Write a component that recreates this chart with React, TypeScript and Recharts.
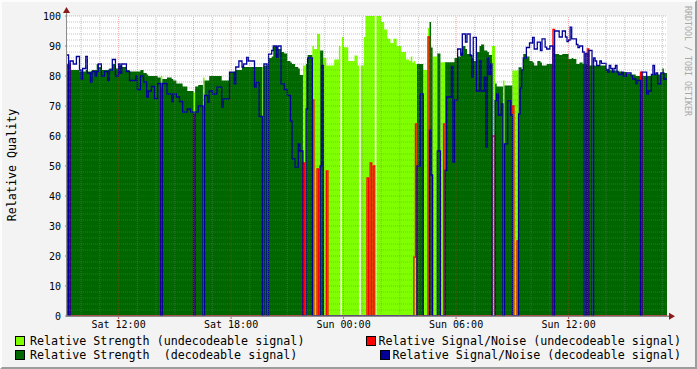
import { ComposedChart, Area, Line, XAxis, YAxis, CartesianGrid, ReferenceLine } from "recharts";

// Signal quality log, 5-minute steps counted from Sat 09:15.
// Each entry holds from its start step until the next one begins.
const STEP_START = [
  0, 1, 2, 4, 6, 8, 9, 10, 12, 13,
  15, 16, 18, 19, 20, 22, 24, 26, 27, 29,
  31, 33, 34, 35, 38, 40, 44, 45, 47, 49,
  51, 52, 54, 56, 58, 60, 61, 64, 67, 68,
  70, 72, 74, 77, 79, 81, 82, 84, 87, 88,
  90, 91, 93, 96, 99, 100, 104, 107, 108, 110,
  112, 113, 115, 116, 120, 121, 123, 125, 126, 128,
  129, 131, 132, 134, 135, 137, 139, 141, 143, 144,
  146, 148, 149, 151, 152, 153, 154, 157, 158, 160,
  161, 162, 163, 164, 166, 167, 171, 174, 175, 176,
  177, 180, 184, 186, 187, 188, 190, 191, 192, 193,
  194, 195, 196, 197, 198, 201, 203, 205, 207, 209,
  211, 214, 217, 219, 220, 221, 222, 223, 224, 226,
  228, 231, 232, 233, 234, 237, 239, 241, 242, 243,
  246, 247, 248, 250, 252, 253, 255, 256, 258, 259,
  260, 262, 264, 265, 267, 268, 269, 270, 271, 272,
  274, 275, 276, 278, 279, 280, 282, 284, 285, 286,
  288, 289, 290, 291, 292, 294, 296, 298, 299, 301,
  303, 304, 306, 307, 309, 311, 312, 315, 317, 319,
  320, 321, 322, 323, 324, 326, 327, 328, 330, 331,
  332, 333, 334, 336, 337, 338, 339, 341, 342, 345,
  346, 347, 348, 349, 350, 351, 352, 353, 355, 356,
  358, 361, 362, 364, 365, 367, 368, 371, 372, 374,
  375, 376, 377, 378, 380, 381, 382,
];

// relative strength (0 = no data)
const STRENGTH = [
  84, 84, 82, 82, 82, 81.5, 81.5, 81.5, 82, 81.5,
  81.5, 82, 82, 84, 83, 82, 82, 82, 82.5, 84,
  82.5, 83.5, 83.5, 83, 82, 81.5, 81.5, 81.5, 82, 81,
  80.5, 80, 80, 80, 79.5, 80, 79, 79.5, 79, 78.5,
  77.5, 77.5, 76.5, 75, 75, 74.5, 76.5, 77, 79.5, 78.5,
  78.5, 80, 80, 80, 78.5, 78.5, 81.3, 81.5, 82, 82,
  83, 83, 83, 83, 83, 83, 83, 83, 83.5, 83.5,
  86, 86.5, 90, 90, 89, 88, 87.5, 85, 84.5, 84,
  83, 82.5, 80.3, 83.5, 83.5, 84, 87, 90, 89, 94,
  94, 88.5, 88.5, 86, 83.5, 83.5, 85.5, 90, 0, 93,
  89.6, 85, 86.8, 83.5, 0, 83.5, 93, 100, 100, 100,
  100, 100, 100, 0, 100, 98, 95.5, 92.4, 91, 92.4,
  90, 88, 85.5, 85, 86.5, 84.5, 85, 84, 84, 84,
  82, 96, 98, 89.5, 86.5, 87.5, 84.6, 84.6, 84.6, 84.6,
  84.6, 84.6, 86, 86.5, 88, 90, 89, 87.3, 87.3, 86,
  85, 88, 90, 90.5, 88.5, 88.5, 88, 87, 87, 90,
  77.5, 76.5, 76.5, 76.5, 78.5, 76.8, 76.8, 76.8, 81.8, 81.8,
  81.8, 82.9, 82.9, 82, 87.3, 86.5, 85, 84.5, 83.5, 85,
  84.5, 83.5, 83.5, 84, 84, 84, 87.3, 87, 87.3, 87.3,
  87.3, 85.7, 85.7, 86, 85.7, 84, 84, 84.5, 84, 84,
  84, 84, 83.5, 83.5, 83.5, 83.5, 83.5, 83.5, 83.5, 82.4,
  82.4, 82, 81.8, 81.8, 81.8, 81.8, 81.8, 81.5, 81.3, 81.3,
  80.7, 80.5, 80.5, 80, 80, 80, 80, 80, 80, 80.5,
  80.5, 80.5, 80.5, 80.5, 81, 82.5, 81,
];

// 1 = signal could be decoded
const DECODABLE = [
  1, 0, 1, 1, 1, 1, 1, 1, 1, 1,
  1, 1, 1, 1, 1, 1, 1, 1, 1, 1,
  1, 1, 1, 1, 1, 1, 1, 1, 1, 1,
  1, 1, 1, 1, 1, 0, 1, 1, 1, 1,
  1, 1, 1, 1, 1, 0, 1, 1, 0, 1,
  1, 1, 1, 1, 1, 1, 1, 1, 1, 1,
  1, 1, 1, 1, 1, 1, 1, 0, 1, 0,
  1, 1, 1, 1, 1, 1, 1, 1, 1, 1,
  1, 1, 1, 0, 0, 1, 1, 0, 0, 0,
  0, 1, 1, 0, 0, 0, 0, 0, 0, 0,
  0, 0, 0, 0, 0, 0, 0, 0, 0, 0,
  0, 0, 0, 0, 0, 0, 0, 0, 0, 0,
  0, 0, 0, 0, 0, 0, 0, 0, 1, 1,
  0, 0, 1, 1, 0, 1, 0, 0, 1, 1,
  1, 1, 1, 1, 1, 1, 1, 1, 1, 1,
  1, 1, 1, 1, 1, 1, 1, 1, 1, 0,
  1, 1, 1, 1, 0, 1, 1, 1, 0, 0,
  0, 1, 1, 1, 1, 1, 1, 1, 1, 1,
  1, 1, 1, 1, 1, 0, 1, 1, 1, 1,
  1, 1, 1, 1, 1, 1, 1, 1, 1, 0,
  1, 0, 1, 0, 1, 1, 1, 1, 1, 1,
  1, 1, 1, 1, 1, 1, 1, 1, 1, 1,
  1, 1, 1, 1, 1, 0, 1, 1, 1, 1,
  1, 1, 1, 1, 1, 1, 1,
];

// relative signal/noise
const SNR = [
  87, 84, 85, 84, 86.5, 82, 79, 82.5, 86.5, 81,
  78, 81.5, 80, 81.5, 84, 80, 81.5, 78.5, 82, 85.5,
  80, 84, 81, 84, 81.5, 78.5, 80, 75.5, 80, 78,
  73, 75, 76.5, 72.5, 77.5, 76, 77.5, 74, 71.5, 74,
  73, 71.5, 68, 69, 68, 67, 68, 70, 0, 73.5,
  71.3, 75, 74, 76.3, 69.6, 72.4, 81.3, 77.4, 83, 85,
  83, 84, 86.2, 85, 76.3, 77.9, 66.5, 0, 84, 0,
  87.3, 88.5, 90, 86.2, 90, 77.4, 75.5, 73.5, 65, 52.4,
  49.6, 57.4, 55, 51, 0, 69, 86, 72, 0, 49,
  0, 50, 83.5, 0, 48.4, 0, 0, 0, 0, 0,
  0, 0, 0, 0, 0, 0, 0, 0, 46, 0,
  51, 0, 50, 0, 0, 0, 0, 0, 0, 0,
  0, 0, 0, 0, 0, 0, 19.6, 64, 50, 74,
  0, 93, 62, 47, 0, 55, 0, 64, 48.5, 73,
  83, 51.3, 72, 89, 87, 94, 91.3, 94, 86.8, 79.6,
  92.9, 75, 85, 75, 79.6, 56.3, 86, 80.5, 84, 60,
  71.8, 74, 67, 70.7, 0, 57.4, 71.8, 67, 70, 0,
  25, 67.4, 76, 82, 86, 89.5, 91, 92.9, 89, 91.3,
  88.5, 92.4, 89.6, 89, 90, 95.5, 95, 93, 95, 93,
  91.5, 92, 96.3, 92.4, 92.4, 90.5, 89.5, 90, 88, 0,
  87.5, 89, 88.5, 0, 86, 85, 83.5, 85, 84.2, 82,
  81.3, 83.5, 82.5, 81.3, 82.5, 83.5, 81.3, 80.5, 81.3, 80,
  81, 80, 79, 77.5, 78.5, 81.3, 81.3, 74, 75, 80.5,
  83.5, 80.5, 81, 77.4, 81, 81, 79,
];

const T0 = 9.25; // hours after Sat 00:00
const TOTAL_STEPS = 384;
const X_TICKS = [12, 18, 24, 30, 36];
const X_TICK_LABELS = ["Sat 12:00", "Sat 18:00", "Sun 00:00", "Sun 06:00", "Sun 12:00"];
const Y_TICKS = [0, 10, 20, 30, 40, 50, 60, 70, 80, 90, 100];

const FONT = '"DejaVu Sans Mono", monospace';
const LIGHT = "#80ff00";
const DARK = "#006600";
const RED = "#ff0000";
const BLUE = "#000099";

const rows = STEP_START.map((s, i) => {
  const ok = DECODABLE[i] === 1;
  return {
    t: T0 + s / 12,
    good: ok ? STRENGTH[i] : 0,
    bad: ok ? 0 : STRENGTH[i],
    snrGood: ok ? SNR[i] : 0,
    snrBad: ok ? 0 : SNR[i],
  };
});
rows.push({ ...rows[rows.length - 1], t: T0 + TOTAL_STEPS / 12 });

const minorY: number[] = [];
for (let v = 2; v < 100; v += 2) if (v % 10) minorY.push(v);
const minorX: number[] = [];
for (let h = 10; h <= 41; h++) if (!X_TICKS.includes(h)) minorX.push(h);

const legendText = { position: "absolute" as const, fontSize: 11.7, lineHeight: "14px", whiteSpace: "pre" as const, color: "#000" };
const swatch = (color: string) => ({ position: "absolute" as const, width: 8, height: 8, background: color, border: "1px solid #000" });

const GRID = "rgba(120,120,120,0.45)";
const MGRID = "rgba(220,40,40,0.4)";

export default function App() {
  return (
    <div style={{ position: "absolute", left: 0, top: 0, width: 697, height: 369, background: "#f3f3f3", fontFamily: FONT, overflow: "hidden" }}>
      <ComposedChart width={697} height={369} data={rows} margin={{ top: 16, right: 30, bottom: 23, left: 7 }}>
        <CartesianGrid fill="#ffffff" horizontal={false} vertical={false} />
        <XAxis
          type="number"
          dataKey="t"
          domain={[T0, T0 + TOTAL_STEPS / 12]}
          ticks={X_TICKS}
          tickFormatter={(v) => X_TICK_LABELS[X_TICKS.indexOf(v)]}
          axisLine={false}
          tickLine={{ stroke: "#d06060" }}
          tickSize={3}
          tickMargin={2}
          height={30}
          tick={{ fill: "#000", fontSize: 10, fontFamily: FONT }}
          allowDataOverflow
        />
        <YAxis
          type="number"
          domain={[0, 100]}
          ticks={Y_TICKS}
          interval={0}
          width={60}
          axisLine={false}
          tickLine={{ stroke: "#d06060" }}
          tickSize={2}
          tickMargin={4}
          tick={{ fill: "#000", fontSize: 10, fontFamily: FONT }}
          allowDataOverflow
        />
        <Area type="stepAfter" dataKey="bad" fill={LIGHT} fillOpacity={1} stroke="none" isAnimationActive={false} />
        <Area type="stepAfter" dataKey="good" fill={DARK} fillOpacity={1} stroke="none" isAnimationActive={false} />
        <Line type="stepAfter" dataKey="snrBad" stroke={RED} strokeWidth={1.3} dot={false} isAnimationActive={false} />
        <Line type="stepAfter" dataKey="snrGood" stroke={BLUE} strokeWidth={1.3} dot={false} isAnimationActive={false} />
        {minorY.map((v) => (
          <ReferenceLine key={"y" + v} y={v} stroke={GRID} strokeDasharray="1 1" zIndex={1000} />
        ))}
        {minorX.map((v) => (
          <ReferenceLine key={"x" + v} x={v} stroke={GRID} strokeDasharray="1 1" zIndex={1000} />
        ))}
        {Y_TICKS.slice(1).map((v) => (
          <ReferenceLine key={"Y" + v} y={v} stroke={MGRID} strokeDasharray="1 1" zIndex={1000} />
        ))}
        {X_TICKS.map((v) => (
          <ReferenceLine key={"X" + v} x={v} stroke={MGRID} strokeDasharray="1 1" zIndex={1000} />
        ))}
      </ComposedChart>

      <svg width={697} height={369} style={{ position: "absolute", left: 0, top: 0, pointerEvents: "none" }}>
        <line x1={66.5} y1={317} x2={66.5} y2={10} stroke="#8c8c8c" strokeWidth={1} />
        <line x1={66} y1={316.3} x2={670} y2={316.3} stroke="#8c8c8c" strokeWidth={1.6} />
        <polygon points="63,13 70,13 66.5,7" fill="#8b1a1a" />
        <polygon points="669,312.8 669,319.8 675,316.3" fill="#8b1a1a" />
      </svg>

      <div style={{ position: "absolute", left: 12, top: 165, transform: "translate(-50%, -50%) rotate(-90deg)", fontSize: 11.7, whiteSpace: "nowrap", color: "#000" }}>
        Relative Quality
      </div>
      <div style={{ position: "absolute", left: 688, top: 61, transform: "translate(-50%, -50%) rotate(90deg)", fontSize: 8.3, whiteSpace: "nowrap", color: "#a8a8a8" }}>
        RRDTOOL / TOBI OETIKER
      </div>

      <div style={{ ...swatch(LIGHT), left: 15, top: 336 }} />
      <div style={{ ...legendText, left: 30, top: 334 }}>Relative Strength (undecodeable signal)</div>
      <div style={{ ...swatch(DARK), left: 15, top: 350 }} />
      <div style={{ ...legendText, left: 30, top: 348 }}>Relative Strength  (decodeable signal)</div>
      <div style={{ ...swatch(RED), left: 366, top: 336 }} />
      <div style={{ ...legendText, right: 16, top: 334 }}>Relative Signal/Noise (undecodeable signal)</div>
      <div style={{ ...swatch(BLUE), left: 380, top: 350 }} />
      <div style={{ ...legendText, right: 16, top: 348 }}>Relative Signal/Noise (decodeable signal)</div>

      <div style={{ position: "absolute", left: 0, top: 0, width: 697, height: 369, boxSizing: "border-box", borderTop: "2px solid #fcfcfc", borderLeft: "2px solid #fcfcfc", borderRight: "2px solid #9c9c9c", borderBottom: "2px solid #9c9c9c", pointerEvents: "none" }} />
    </div>
  );
}
